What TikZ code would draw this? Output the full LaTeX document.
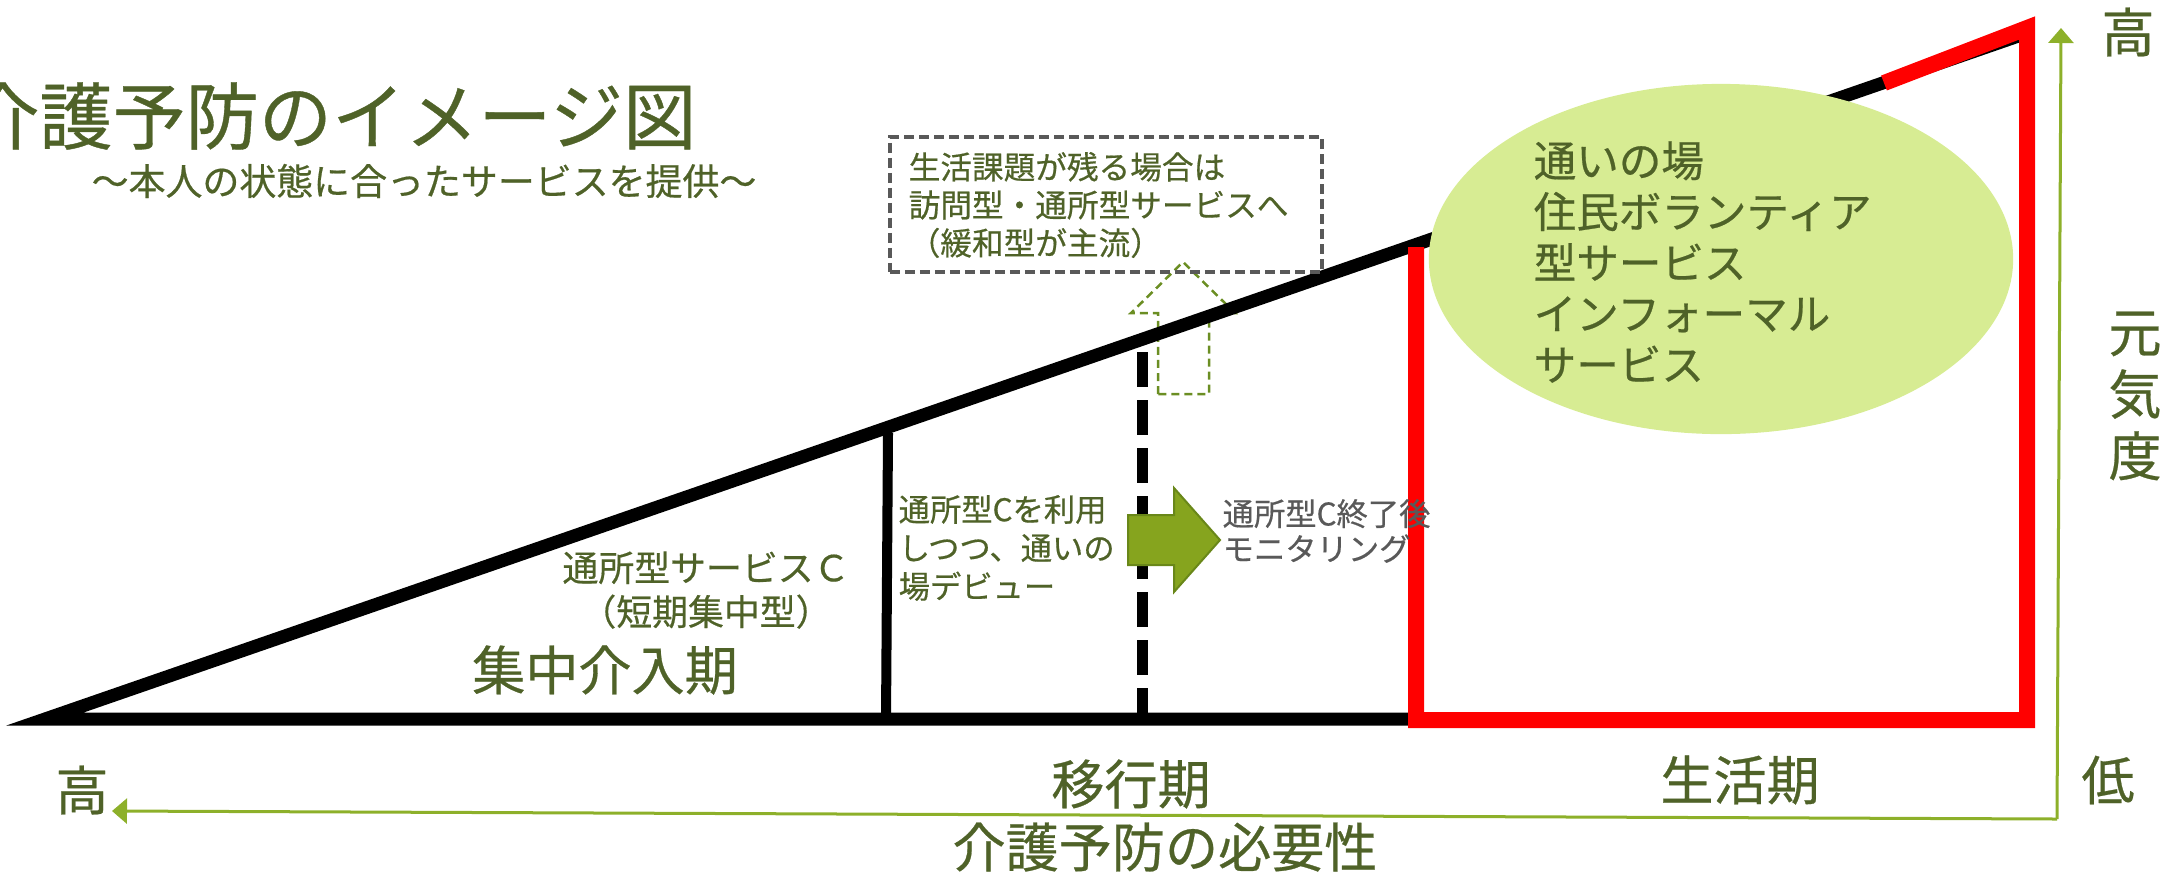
\documentclass[tikz,border=0pt]{standalone}
\usepackage{fontspec}
\setmainfont{Noto Sans CJK JP}[FakeBold=0.5]
\usetikzlibrary{arrows.meta,shapes.geometric}
\definecolor{txtolive}{RGB}{79,98,40}
\definecolor{axisgreen}{RGB}{141,176,42}
\definecolor{arrowgreen}{RGB}{134,164,30}
\definecolor{arrowedge}{RGB}{105,135,25}
\definecolor{ellfill}{RGB}{215,236,147}
\definecolor{boxgray}{RGB}{89,89,89}
\definecolor{dashgreen}{RGB}{107,142,35}
\definecolor{redline}{RGB}{255,0,0}
\newcommand\jfs[2]{\fontsize{#1}{#2}\selectfont}
\begin{document}
\begin{tikzpicture}[x=0.01cm,y=-0.01cm,
  txt/.style={inner sep=0pt, text=txtolive},
  graytxt/.style={inner sep=0pt, text=boxgray},
  blackline/.style={draw=black, line join=miter},
  redpath/.style={draw=redline, line width=0.16cm, line join=miter},
  axisline/.style={draw=axisgreen, line width=0.03cm, -{Triangle[length=0.15cm,width=0.25cm]}},
  dashbox/.style={draw=boxgray, line width=0.035cm, dash pattern=on 0.1cm off 0.05cm},
  dasharrow/.style={draw=dashgreen, line width=0.025cm, dash pattern=on 0.08cm off 0.05cm, line join=miter},
  fillarrow/.style={fill=arrowgreen, draw=arrowedge, line width=0.02cm, line join=miter}]
\useasboundingbox (0,0) rectangle (2182,875);

% key points
\coordinate (tip) at (45,719);
\coordinate (top) at (2030,32);
\coordinate (botR) at (2030,719);
\coordinate (v1t) at (888,433);
\coordinate (v1b) at (886,719);
\coordinate (v2t) at (1142,352);
\coordinate (v2b) at (1142,719);

% dashed up arrow (outline)
\draw[dasharrow] (1158,394) -- (1158,313) -- (1131,313) -- (1183,262) -- (1235,313) -- (1209,313) -- (1209,394) -- cycle;

% triangle
\draw[blackline, line width=0.13cm] (top) -- (tip) -- (botR);
\draw[draw=black, line width=0.10cm] (v1t) -- (v1b);
\draw[draw=black, line width=0.11cm, dash pattern=on 0.35cm off 0.13cm] (v2t) -- (v2b);

% ellipse
\node[fill=ellfill, ellipse, minimum width=5.84cm, minimum height=3.50cm, inner sep=0pt] (ell) at (1721,259) {};

% red path
\draw[redpath] (1416,247) -- (1416,720) -- (2027,720) -- (2027,28) -- (1884,83);

% solid green arrow
\draw[fillarrow] (1128,515) -- (1174,515) -- (1174,488) -- (1220,540) -- (1174,592) -- (1174,565) -- (1128,565) -- cycle;

% axes
\coordinate (origin) at (2057,819);
\coordinate (xend) at (112,811);
\coordinate (yend) at (2061,28);
\draw[axisline] (origin) -- (xend);
\draw[axisline] (origin) -- (yend);

% dashed box
\node[dashbox, anchor=north west, minimum width=4.32cm, minimum height=1.35cm, inner sep=0pt] (box) at (888,135) {};
\node[txt, anchor=west, align=left, font=\jfs{9.0pt}{10.8pt}] (boxtext) at (908,205) {生活課題が残る場合は\\訪問型・通所型サービスへ\\（緩和型が主流）};

% texts
\node[txt, anchor=east, font=\jfs{20.8pt}{25pt}] (title) at (697,116) {介護予防のイメージ図};
\node[txt, font=\jfs{10.5pt}{12pt}] (subtitle) at (424,181) {～本人の状態に合ったサービスを提供～};

\node[txt, align=center, font=\jfs{10.2pt}{12.5pt}] (tsvc) at (706,590) {通所型サービスＣ\\（短期集中型）};
\node[txt, font=\jfs{15.1pt}{18pt}] (ph1) at (605,670) {集中介入期};
\node[txt, anchor=west, align=left, font=\jfs{8.9pt}{10.95pt}] (mid1) at (898,548) {通所型Cを利用\\しつつ、通いの\\場デビュー};
\node[graytxt, anchor=west, align=left, font=\jfs{8.9pt}{10pt}] (mid2) at (1222,531) {通所型C終了後\\モニタリング};
\node[txt, anchor=west, align=left, font=\jfs{12.1pt}{14.5pt}] (elltext) at (1533,262) {通いの場\\住民ボランティア\\型サービス\\インフォーマル\\サービス};

\node[txt, font=\jfs{15.1pt}{18pt}] (ph2) at (1131,784) {移行期};
\node[txt, font=\jfs{15.1pt}{18pt}] (ph3) at (1740,780) {生活期};
\node[txt, font=\jfs{15.1pt}{18pt}] (need) at (1165,847) {介護予防の必要性};
\node[txt, font=\jfs{15.1pt}{18pt}] (hiL) at (82,790) {高};
\node[txt, font=\jfs{15.1pt}{18pt}] (lo) at (2108,780) {低};
\node[txt, font=\jfs{15.1pt}{18pt}] (hiT) at (2128,32) {高};
\node[txt, align=center, font=\jfs{15.1pt}{17.6pt}] (genki) at (2135,396) {元\\気\\度};
\end{tikzpicture}
\end{document}
